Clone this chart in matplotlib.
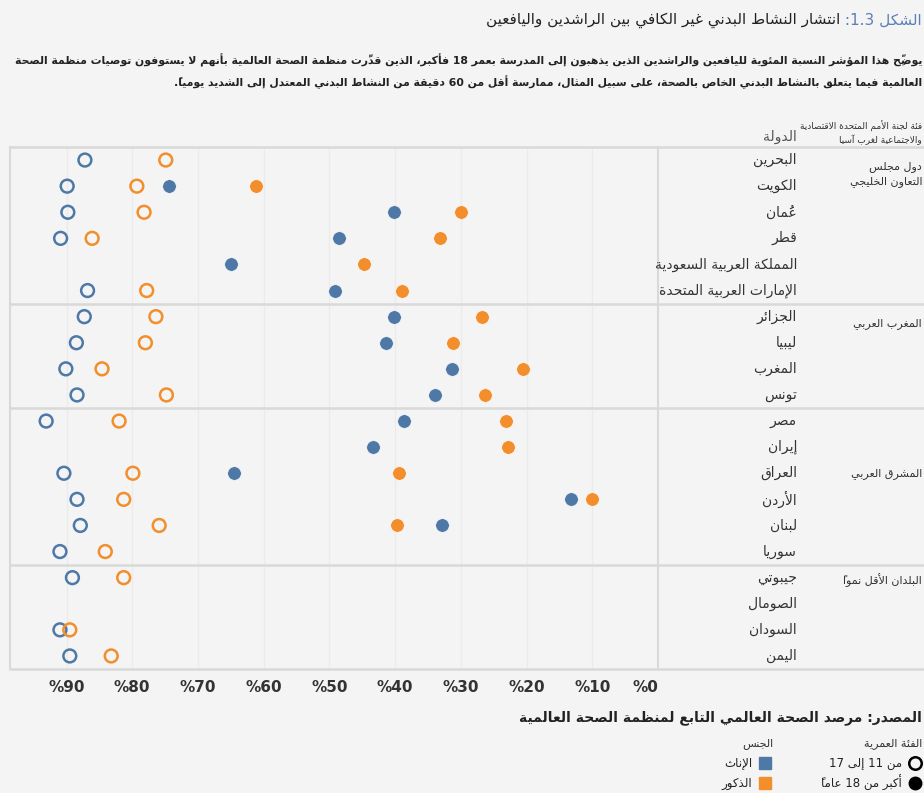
import re
import unicodedata
import numpy as np
import matplotlib
matplotlib.use("Agg")
import matplotlib.pyplot as plt
from matplotlib.lines import Line2D
from matplotlib.transforms import blended_transform_factory

plt.rcParams['font.family'] = ['DejaVu Sans']

BLUE = "#4e79a7"
ORANGE = "#f28e2b"
BG = "#f4f4f4"
GRID = "#d9d9d9"
W, H = 924, 793

# ---- data (rows top to bottom) ----
countries = ["البحرين", "الكويت", "عُمان", "قطر", "المملكة العربية السعودية",
             "الإمارات العربية المتحدة", "الجزائر", "ليبيا", "المغرب", "تونس",
             "مصر", "إيران", "العراق", "الأردن", "لبنان", "سوريا",
             "جيبوتي", "الصومال", "السودان", "اليمن"]
nan = np.nan
young_female = [87.2, 89.9, 89.8, 90.9, nan, 86.8, 87.3, 88.5, 90.1, 88.4,
                93.1, nan, 90.4, 88.4, 87.9, 91.0, 89.1, nan, 91.0, 89.5]
young_male = [74.9, 79.3, 78.2, 86.1, nan, 77.8, 76.4, 78.0, 84.6, 74.8,
              82.0, nan, 79.9, 81.3, 75.9, 84.1, 81.3, nan, 89.5, 83.2]
adult_female = [nan, 74.4, 40.2, 48.6, 65.0, 49.2, 40.2, 41.4, 31.4, 34.0,
                38.7, 43.4, 64.5, 13.3, 32.9, nan, nan, nan, nan, nan]
adult_male = [nan, 61.2, 29.9, 33.1, 44.7, 38.9, 26.8, 31.2, 20.6, 26.3,
              23.1, 22.9, 39.4, 10.1, 39.7, nan, nan, nan, nan, nan]

groups = ["دول مجلس\nالتعاون الخليجي", "المغرب العربي", "المشرق العربي",
          "البلدان الأقل نمواً"]
group_sizes = [6, 4, 6, 4]
xticks = [0, 10, 20, 30, 40, 50, 60, 70, 80, 90]

title_fig = "الشكل 1.3: "
title_text = "انتشار النشاط البدني غير الكافي بين الراشدين واليافعين"
subtitle = ["يوضِّح هذا المؤشر النسبة المئوية لليافعين والراشدين الذين يذهبون إلى المدرسة بعمر 18 فأكبر، الذين قدَّرت منظمة الصحة العالمية بأنهم لا يستوفون توصيات منظمة الصحة",
            "العالمية فيما يتعلق بالنشاط البدني الخاص بالصحة، على سبيل المثال، ممارسة أقل من 60 دقيقة من النشاط البدني المعتدل إلى الشديد يومياً."]
source = "المصدر: مرصد الصحة العالمي التابع لمنظمة الصحة العالمية"

# ---- minimal Arabic shaping (matplotlib has no complex text layout) ----
FORMS = {'ء': 0xFE80, 'آ': 0xFE81, 'أ': 0xFE83, 'ؤ': 0xFE85, 'إ': 0xFE87,
         'ئ': 0xFE89, 'ا': 0xFE8D, 'ب': 0xFE8F, 'ة': 0xFE93, 'ت': 0xFE95,
         'ث': 0xFE99, 'ج': 0xFE9D, 'ح': 0xFEA1, 'خ': 0xFEA5, 'د': 0xFEA9,
         'ذ': 0xFEAB, 'ر': 0xFEAD, 'ز': 0xFEAF, 'س': 0xFEB1, 'ش': 0xFEB5,
         'ص': 0xFEB9, 'ض': 0xFEBD, 'ط': 0xFEC1, 'ظ': 0xFEC5, 'ع': 0xFEC9,
         'غ': 0xFECD, 'ف': 0xFED1, 'ق': 0xFED5, 'ك': 0xFED9, 'ل': 0xFEDD,
         'م': 0xFEE1, 'ن': 0xFEE5, 'ه': 0xFEE9, 'و': 0xFEED, 'ى': 0xFEEF,
         'ي': 0xFEF1}
DUAL = set("ئبتثجحخسشصضطظعغفقكلمنهي")
LAM_ALEF = {'آ': 0xFEF5, 'أ': 0xFEF7, 'إ': 0xFEF9, 'ا': 0xFEFB}


def shape_line(s):
    groups_ = []
    for c in s:
        if unicodedata.category(c) == 'Mn' and groups_:
            groups_[-1][1] += c
        else:
            groups_.append([c, ''])
    g2 = []
    i = 0
    while i < len(groups_):
        c, m = groups_[i]
        if c == 'ل' and i + 1 < len(groups_) and groups_[i + 1][0] in LAM_ALEF:
            g2.append(['LA', m + groups_[i + 1][1], LAM_ALEF[groups_[i + 1][0]]])
            i += 2
        else:
            g2.append([c, m, FORMS.get(c)])
            i += 1
    tokens = []
    for k, (c, m, base) in enumerate(g2):
        if base is None:
            tokens.append(m + c)
            continue
        prev_j = k > 0 and g2[k - 1][0] in DUAL and c != 'ء'
        next_j = (c in DUAL and k + 1 < len(g2) and g2[k + 1][2] is not None
                  and g2[k + 1][0] != 'ء')
        if c in DUAL:
            idx = {(False, False): 0, (True, False): 1,
                   (False, True): 2, (True, True): 3}[(prev_j, next_j)]
        elif c == 'ء':
            idx = 0
        else:
            idx = 1 if prev_j else 0
        # the mark goes first so it lands on top of its letter
        tokens.append(m + chr(base + idx))
    vis = ''.join(reversed(tokens))
    return re.sub(r'\d+(?:[.,]\d+)*', lambda mo: mo.group(0)[::-1], vis)


def ar(s):
    return '\n'.join(shape_line(line) for line in s.split('\n'))


def fx(px):
    return px / W


def fy(py):
    return 1 - py / H


# ---- figure ----
fig = plt.figure(figsize=(W / 100, H / 100), dpi=100, facecolor=BG)
ax = fig.add_axes([fx(10), fy(669), (658 - 10) / W, (669 - 147) / H])
ax.set_facecolor(BG)

rows = np.arange(len(countries))
ax.scatter(young_female, rows, s=85, facecolors='none', edgecolors=BLUE, linewidths=1.8, zorder=3)
ax.scatter(young_male, rows, s=85, facecolors='none', edgecolors=ORANGE, linewidths=1.8, zorder=3)
ax.scatter(adult_female, rows, s=95, color=BLUE, edgecolors='white', linewidths=0.4, zorder=3)
ax.scatter(adult_male, rows, s=95, color=ORANGE, edgecolors='white', linewidths=0.4, zorder=3)

ax.set_xlim(98.6, 0)
ax.set_ylim(len(countries) - 0.5, -0.5)
ax.set_yticks([])
ax.set_xticks(xticks)
ax.set_xticklabels(["%" + str(v) for v in xticks], fontsize=11, fontweight='semibold', color='#333333')
ax.get_xticklabels()[0].set_ha('right')
ax.tick_params(axis='x', length=0, pad=8)
for v in xticks[1:]:
    ax.axvline(v, color='#ebebeb', lw=1, zorder=1)
for side in ['top', 'bottom']:
    ax.spines[side].set_visible(False)
for side in ['left', 'right']:
    ax.spines[side].set_color(GRID)
    ax.spines[side].set_linewidth(1.5)

# horizontal separators spanning into the label columns
tr = blended_transform_factory(fig.transFigure, ax.transData)
bounds = np.concatenate([[0], np.cumsum(group_sizes)]) - 0.5
for b in bounds:
    fig.add_artist(Line2D([fx(10), 1], [b, b], transform=tr, color=GRID, lw=1.8))

for r, name in enumerate(countries):
    fig.text(fx(797), r, ar(name), transform=tr, ha='right', va='center',
             fontsize=10, color='#333333')

group_label_rows = [0.55, 6.25, 12.0, 16.1]
for name, yrow in zip(groups, group_label_rows):
    fig.text(fx(922), yrow, ar(name), transform=tr, ha='right', va='center',
             fontsize=8, color='#333333', linespacing=1.5)

# column headers
fig.text(fx(797), fy(137), ar("الدولة"), ha='right', va='center', fontsize=10, color='#555555')
fig.text(fx(922), fy(133), ar("فئة لجنة الأمم المتحدة الاقتصادية\nوالاجتماعية لغرب آسيا"),
         ha='right', va='center', fontsize=6.5, color='#333333', linespacing=1.4)

# title and subtitle
t1 = fig.text(fx(922), fy(20), ar(title_fig), ha='right', va='center', fontsize=11, color='#5b80b6')
fig.canvas.draw()
renderer = fig.canvas.get_renderer()
x0 = t1.get_window_extent(renderer).x0
fig.text(x0 / W, fy(20), ar(title_text), ha='right', va='center', fontsize=11, color='#222222')

s1 = fig.text(fx(922), fy(60), ar(subtitle[0]), ha='right', va='center', fontsize=10,
              fontweight='bold', color='#222222')
w = s1.get_window_extent(renderer).width
if w > 916:
    s1.set_fontsize(10 * 916 / w)
fig.text(fx(922), fy(82), ar(subtitle[1]), ha='right', va='center', fontsize=s1.get_fontsize(),
         fontweight='bold', color='#222222')

fig.text(fx(922), fy(718), ar(source), ha='right', va='center', fontsize=10,
         fontweight='bold', color='#222222')

# legends
fig.text(fx(922), fy(744), ar("الفئة العمرية"), ha='right', va='center', fontsize=8, color='#333333')
fig.text(fx(773), fy(744), ar("الجنس"), ha='right', va='center', fontsize=8, color='#333333')
fig.add_artist(Line2D([fx(915)], [fy(763)], marker='o', ms=9, mfc='none', mec='black', mew=1.8))
fig.add_artist(Line2D([fx(915)], [fy(783)], marker='o', ms=9, mfc='black', mec='black'))
fig.text(fx(902), fy(763), ar("من 11 إلى 17"), ha='right', va='center', fontsize=8.5, color='#222222')
fig.text(fx(902), fy(783), ar("أكبر من 18 عاماً"), ha='right', va='center', fontsize=8.5, color='#222222')
fig.add_artist(Line2D([fx(765)], [fy(763)], marker='s', ms=9, mfc=BLUE, mec=BLUE))
fig.add_artist(Line2D([fx(765)], [fy(783)], marker='s', ms=9, mfc=ORANGE, mec=ORANGE))
fig.text(fx(752), fy(763), ar("الإناث"), ha='right', va='center', fontsize=8.5, color='#222222')
fig.text(fx(752), fy(783), ar("الذكور"), ha='right', va='center', fontsize=8.5, color='#222222')

fig.savefig("out.png", dpi=100, facecolor=BG)
